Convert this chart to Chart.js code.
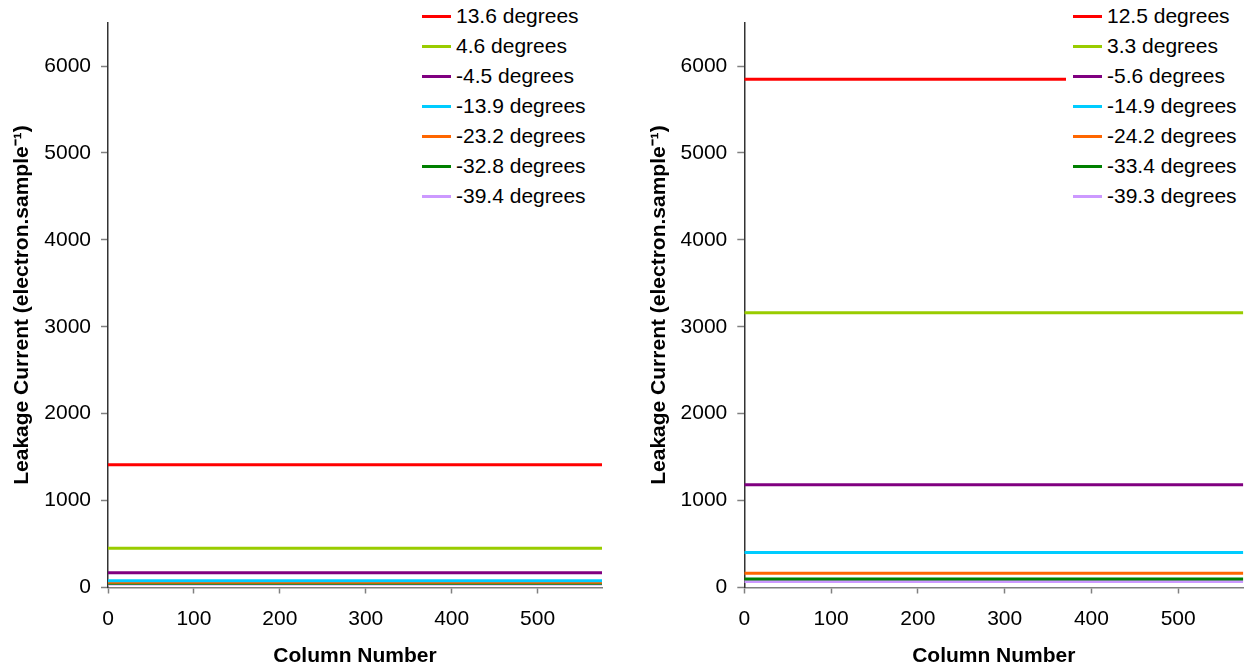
<!DOCTYPE html>
<html>
<head>
<meta charset="utf-8">
<script src="https://cdn.jsdelivr.net/npm/chart.js@4/dist/chart.umd.min.js"></script>
<style>
  html, body { margin: 0; padding: 0; background: #fff; }
  body { width: 1250px; height: 672px; position: relative; overflow: hidden; font-family: "Liberation Sans", Arial, sans-serif; }
  .panel { position: absolute; top: 0; height: 672px; }
  .legend { position: absolute; top: 0; background: #fff; padding: 1px 8px 8px 7px; font-size: 21px; color: #000; }
  .legend .row { height: 30px; display: flex; align-items: center; white-space: nowrap; }
  .legend .sw { width: 29px; height: 3px; margin-right: 5px; }
</style>
</head>
<body>
<div class="panel" id="p1" style="left:0;width:625px;"><canvas id="c1" width="625" height="672"></canvas></div>
<div class="panel" id="p2" style="left:637px;width:613px;"><canvas id="c2" width="613" height="672"></canvas></div>
<div class="legend" id="lg1" style="left:415px;width:195px;"></div>
<div class="legend" id="lg2" style="left:1066px;width:170px;"></div>
<script>
// ---- data ----
const columns = [0, 575];
const seriesColors = ['#FF0000', '#99CC00', '#800080', '#00CCFF', '#FF6600', '#008000', '#CC99FF'];
const leftLabels = ['13.6 degrees', '4.6 degrees', '-4.5 degrees', '-13.9 degrees', '-23.2 degrees', '-32.8 degrees', '-39.4 degrees'];
const leftLevels = [1412, 452, 170, 78, 60, 48, 40];
const rightLabels = ['12.5 degrees', '3.3 degrees', '-5.6 degrees', '-14.9 degrees', '-24.2 degrees', '-33.4 degrees', '-39.3 degrees'];
const rightLevels = [5848, 3160, 1182, 404, 163, 98, 68];
const yTickValues = [0, 1000, 2000, 3000, 4000, 5000, 6000];
const xTickValues = [0, 100, 200, 300, 400, 500];
const yTitle = 'Leakage Current (electron.sample\u207B\u00B9)';
const xTitle = 'Column Number';

const FONT = '"Liberation Sans", Arial, sans-serif';

function makeDatasets(labels, levels) {
  return labels.map((lab, i) => ({
    label: lab,
    data: columns.map(c => ({ x: c, y: levels[i] })),
    borderColor: seriesColors[i],
    backgroundColor: seriesColors[i],
    borderWidth: 3,
    pointRadius: 0,
    tension: 0,
    fill: false
  }));
}

function makeChart(canvasId, labels, levels, yWidth, padRight) {
  return new Chart(document.getElementById(canvasId), {
    type: 'line',
    data: { datasets: makeDatasets(labels, levels) },
    options: {
      responsive: false,
      animation: false,
      devicePixelRatio: 1,
      layout: { padding: { left: 0, right: padRight, top: 19, bottom: 0 } },
      plugins: { legend: { display: false }, tooltip: { enabled: false } },
      scales: {
        x: {
          type: 'linear', min: 0, max: 575,
          afterBuildTicks: s => { s.ticks = xTickValues.map(v => ({ value: v })); },
          afterFit: s => { s.height = 84.5; },
          grid: { display: true, drawOnChartArea: false, drawTicks: true, tickLength: 6, tickColor: '#808080', tickWidth: 1.5 },
          border: { display: true, color: '#808080', width: 1.5 },
          ticks: { color: '#000', font: { family: FONT, size: 21 }, padding: 13, maxRotation: 0, callback: v => String(v) },
          title: { display: true, text: xTitle, color: '#000', font: { family: FONT, size: 21, weight: 'bold' }, padding: { top: 0, bottom: 3.4 } }
        },
        y: {
          type: 'linear', min: 0, max: 6500,
          afterBuildTicks: s => { s.ticks = yTickValues.map(v => ({ value: v })); },
          afterFit: s => { s.width = yWidth; },
          grid: { display: true, drawOnChartArea: false, drawTicks: true, tickLength: 7, tickColor: '#808080', tickWidth: 1.5 },
          border: { display: true, color: '#333333', width: 1.5 },
          ticks: { color: '#000', font: { family: FONT, size: 21 }, padding: 10, callback: v => String(v) },
          title: { display: true, text: yTitle, color: '#000', font: { family: FONT, size: 21, weight: 'bold' }, padding: { top: 9.4, bottom: 0 } }
        }
      }
    }
  });
}

function buildLegend(el, chart) {
  chart.data.datasets.forEach(ds => {
    const row = document.createElement('div');
    row.className = 'row';
    const sw = document.createElement('div');
    sw.className = 'sw';
    sw.style.background = ds.borderColor;
    const tx = document.createElement('span');
    tx.textContent = ds.label;
    row.appendChild(sw);
    row.appendChild(tx);
    el.appendChild(row);
  });
}

const ch1 = makeChart('c1', leftLabels, leftLevels, 108, 23);
const ch2 = makeChart('c2', rightLabels, rightLevels, 107.3, 6.7);
buildLegend(document.getElementById('lg1'), ch1);
buildLegend(document.getElementById('lg2'), ch2);
</script>
</body>
</html>
